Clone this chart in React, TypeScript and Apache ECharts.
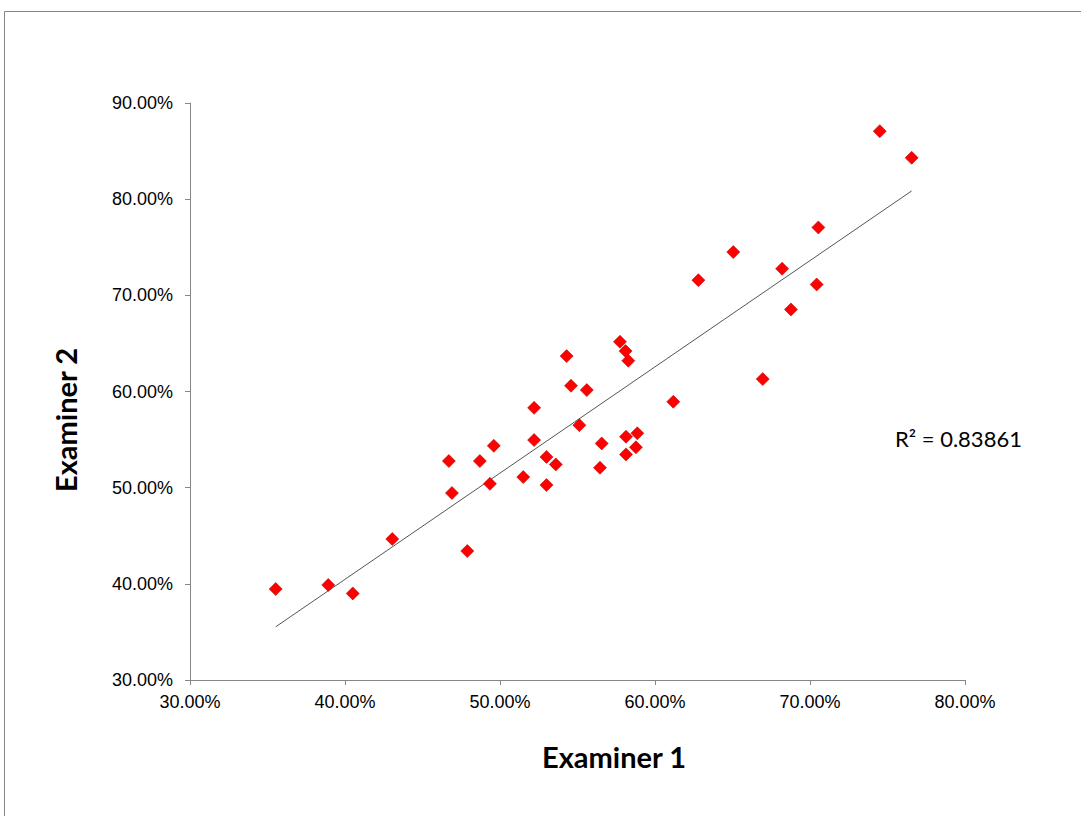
import React, { useEffect, useRef } from "react";
import * as echarts from "echarts";

const examiner1: number[] = [
  35.53, 38.92, 40.5, 43.05, 47.89,
  46.7, 46.9, 48.7, 49.35, 49.6, 51.5, 52.2, 52.2, 53.0, 53.0, 53.6, 54.3, 54.58,
  55.12, 55.6, 56.45, 56.56, 57.74, 58.1, 58.28, 58.13, 58.13, 58.86, 58.77, 61.18,
  74.5, 76.56, 70.54, 65.05, 62.8, 68.2, 70.43, 68.77, 66.95,
];
const examiner2: number[] = [
  39.46, 39.88, 39.0, 44.66, 43.41,
  52.77, 49.44, 52.77, 50.4, 54.35, 51.1, 58.3, 54.95, 53.2, 50.27, 52.42, 63.68, 60.6,
  56.5, 60.15, 52.07, 54.6, 65.17, 64.2, 63.2, 55.3, 53.46, 55.65, 54.2, 58.93,
  87.07, 84.3, 77.06, 74.5, 71.58, 72.77, 71.13, 68.53, 61.29,
];
const xTicks = { min: 30, max: 80, interval: 10 };
const yTicks = { min: 30, max: 90, interval: 10 };
const rSquaredLabel = "R² = 0.83861";
const xTitle = "Examiner 1";
const yTitle = "Examiner 2";

function regression(xs: number[], ys: number[]) {
  const n = xs.length;
  const mx = xs.reduce((a, b) => a + b, 0) / n;
  const my = ys.reduce((a, b) => a + b, 0) / n;
  let sxy = 0, sxx = 0;
  for (let i = 0; i < n; i++) {
    sxy += (xs[i] - mx) * (ys[i] - my);
    sxx += (xs[i] - mx) * (xs[i] - mx);
  }
  const slope = sxy / sxx;
  return { slope, intercept: my - slope * mx };
}

export default function App() {
  const ref = useRef<HTMLDivElement>(null);
  useEffect(() => {
    if (!ref.current) return;
    const chart = echarts.init(ref.current, undefined, { renderer: "svg" });
    const points = examiner1.map((x, i) => [x, examiner2[i]]);
    const { slope, intercept } = regression(examiner1, examiner2);
    const xmin = Math.min(...examiner1);
    const xmax = Math.max(...examiner1);
    const trend = [
      [xmin, slope * xmin + intercept],
      [xmax, slope * xmax + intercept],
    ];
    const axisColor = "#868686";
    const labelFont = { fontFamily: "Liberation Sans, Arial, sans-serif", fontSize: 18, color: "#000" };
    chart.setOption({
      animation: false,
      backgroundColor: "#fff",
      grid: { left: 190, top: 103, width: 775, height: 577, containLabel: false },
      xAxis: {
        type: "value",
        min: xTicks.min,
        max: xTicks.max,
        interval: xTicks.interval,
        axisLine: { show: true, lineStyle: { color: axisColor, width: 1 } },
        axisTick: { show: true, inside: false, length: 5, lineStyle: { color: axisColor } },
        splitLine: { show: false },
        axisLabel: { ...labelFont, margin: 13, formatter: (v: number) => v.toFixed(2) + "%" },
      },
      yAxis: {
        type: "value",
        min: yTicks.min,
        max: yTicks.max,
        interval: yTicks.interval,
        axisLine: { show: true, lineStyle: { color: axisColor, width: 1 } },
        axisTick: { show: true, inside: false, length: 5, lineStyle: { color: axisColor } },
        splitLine: { show: false },
        axisLabel: { ...labelFont, margin: 17, formatter: (v: number) => v.toFixed(2) + "%" },
      },
      series: [
        {
          type: "line",
          data: trend,
          symbol: "none",
          lineStyle: { color: "#555", width: 1 },
          z: 2,
        },
        {
          type: "scatter",
          data: points,
          symbol: "diamond",
          symbolSize: 13,
          itemStyle: { color: "#ff0000", opacity: 1, borderColor: "#c00000", borderWidth: 0.6 },
          z: 3,
        },
      ],
      graphic: [
        {
          type: "rect",
          shape: { x: 4.5, y: 11.5, width: 1200, height: 900 },
          style: { fill: "none", stroke: axisColor, lineWidth: 1 },
          silent: true,
        },
        {
          type: "text",
          x: 895,
          y: 438,
          style: {
            text: rSquaredLabel,
            font: "22px Lato, 'Open Sans', sans-serif",
            fill: "#000",
            verticalAlign: "middle",
          },
        },
        {
          type: "text",
          x: 614,
          y: 756,
          style: {
            text: xTitle,
            font: "bold 29px Lato, 'Open Sans', sans-serif",
            fill: "#000",
            align: "center",
            verticalAlign: "middle",
          },
        },
        {
          type: "text",
          x: 65,
          y: 420,
          rotation: Math.PI / 2,
          style: {
            text: yTitle,
            font: "bold 29px Lato, 'Open Sans', sans-serif",
            fill: "#000",
            align: "center",
            verticalAlign: "middle",
          },
        },
      ],
    });
    return () => chart.dispose();
  }, []);
  return (
    <div
      ref={ref}
      style={{ position: "fixed", left: 0, top: 0, width: 1081, height: 816 }}
    />
  );
}
